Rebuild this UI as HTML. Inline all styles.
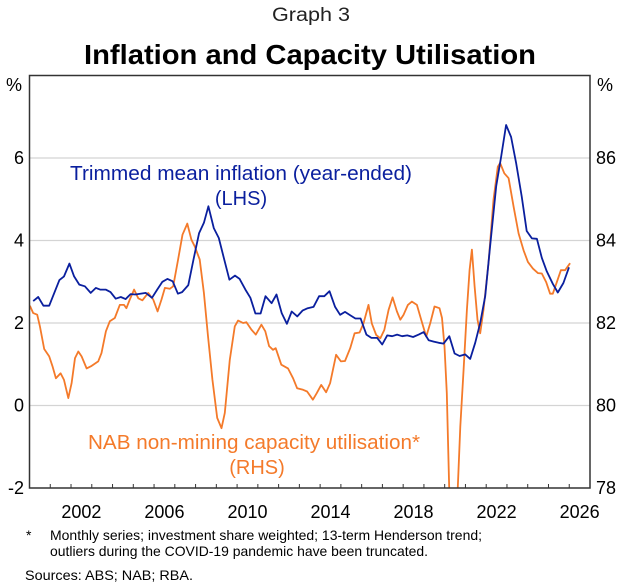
<!DOCTYPE html>
<html><head><meta charset="utf-8"><style>
body{margin:0;background:#fff;}
svg{display:block;font-family:"Liberation Sans",Arial,sans-serif;}
</style></head><body>
<svg id="chart" width="622" height="588" viewBox="0 0 622 588">
<text x="311" y="21" text-anchor="middle" font-size="19" fill="#222" textLength="78" lengthAdjust="spacingAndGlyphs">Graph 3</text>
<text x="310" y="64" text-anchor="middle" font-size="28" font-weight="bold" fill="#000" textLength="452" lengthAdjust="spacingAndGlyphs">Inflation and Capacity Utilisation</text>
<defs><clipPath id="plotclip"><rect x="29.5" y="75.5" width="560.5" height="412.5"/></clipPath></defs>
<g id="grid"></g>
<g id="series" clip-path="url(#plotclip)"></g>
<rect x="29.5" y="75.5" width="560.5" height="412.5" fill="none" stroke="#333" stroke-width="1.5"/>
<g id="axes"></g>
<text x="14" y="91" text-anchor="middle" font-size="18">%</text>
<text x="605" y="91" text-anchor="middle" font-size="18">%</text>
<text x="241" y="180" text-anchor="middle" font-size="20" fill="#0a1f9e" textLength="342" lengthAdjust="spacingAndGlyphs">Trimmed mean inflation (year-ended)</text>
<text x="241" y="205" text-anchor="middle" font-size="20" fill="#0a1f9e">(LHS)</text>
<text x="254" y="449" text-anchor="middle" font-size="20" fill="#f47a2a" textLength="332" lengthAdjust="spacingAndGlyphs">NAB non-mining capacity utilisation*</text>
<text x="257" y="474" text-anchor="middle" font-size="20" fill="#f47a2a">(RHS)</text>
<text x="26" y="540" font-size="14">*</text>
<text x="50" y="540" font-size="14" textLength="432" lengthAdjust="spacingAndGlyphs">Monthly series; investment share weighted; 13-term Henderson trend;</text>
<text x="50" y="556" font-size="14" textLength="378" lengthAdjust="spacingAndGlyphs">outliers during the COVID-19 pandemic have been truncated.</text>
<text x="25" y="580" font-size="14" textLength="168" lengthAdjust="spacingAndGlyphs">Sources:  ABS; NAB; RBA.</text>
</svg>
<script>
const tmDates=[2000.18,2000.42,2000.67,2000.95,2001.44,2001.66,2001.92,2002.15,2002.4,2002.67,2002.95,2003.2,2003.4,2003.67,2003.9,2004.15,2004.4,2004.63,2004.87,2005.1,2005.6,2005.9,2006.15,2006.4,2006.65,2006.9,2007.15,2007.35,2007.65,2007.9,2008.17,2008.4,2008.62,2008.88,2009.12,2009.36,2009.63,2009.9,2010.12,2010.4,2010.64,2010.88,2011.13,2011.37,2011.66,2011.9,2012.15,2012.4,2012.63,2012.9,2013.15,2013.4,2013.68,2013.95,2014.2,2014.45,2014.72,2014.96,2015.2,2015.45,2015.7,2015.95,2016.23,2016.47,2016.75,2016.99,2017.23,2017.47,2017.71,2017.95,2018.2,2018.48,2018.75,2018.99,2019.23,2019.47,2019.71,2019.95,2020.22,2020.48,2020.72,2020.99,2021.23,2021.47,2021.71,2021.95,2022.19,2022.48,2022.72,2022.96,2023.2,2023.44,2023.71,2023.95,2024.2,2024.44,2024.68,2024.92,2025.21,2025.45,2025.72,2025.99];
const tmValues=[2.53,2.63,2.42,2.42,3.04,3.13,3.44,3.13,2.93,2.89,2.73,2.85,2.81,2.81,2.75,2.59,2.63,2.58,2.7,2.69,2.73,2.61,2.81,3.0,3.07,3.01,2.71,2.75,2.92,3.54,4.18,4.43,4.83,4.3,4.06,3.58,3.05,3.15,3.07,2.81,2.61,2.23,2.23,2.65,2.48,2.69,2.24,1.98,2.28,2.16,2.3,2.36,2.39,2.65,2.65,2.77,2.39,2.2,2.27,2.19,2.11,2.11,1.72,1.64,1.64,1.48,1.7,1.68,1.72,1.68,1.7,1.66,1.72,1.78,1.58,1.55,1.52,1.5,1.68,1.26,1.2,1.24,1.13,1.52,2.0,2.65,3.86,5.32,6.04,6.8,6.51,5.88,5.07,4.23,4.05,4.04,3.58,3.25,2.95,2.74,2.97,3.35];
const nabDates=[2000.02,2000.18,2000.37,2000.5,2000.71,2000.95,2001.11,2001.27,2001.5,2001.66,2001.87,2002.03,2002.19,2002.35,2002.51,2002.75,2002.99,2003.31,2003.47,2003.68,2003.87,2004.11,2004.35,2004.55,2004.67,2004.83,2005.04,2005.24,2005.44,2005.72,2005.96,2006.17,2006.36,2006.52,2006.76,2006.92,2007.16,2007.37,2007.6,2007.8,2007.96,2008.2,2008.4,2008.6,2008.81,2009.04,2009.25,2009.41,2009.65,2009.89,2010.05,2010.29,2010.45,2010.69,2010.9,2011.17,2011.36,2011.54,2011.73,2011.86,2012.13,2012.45,2012.7,2012.89,2013.18,2013.37,2013.65,2013.84,2014.05,2014.29,2014.48,2014.77,2015.0,2015.2,2015.45,2015.66,2015.9,2016.09,2016.33,2016.49,2016.7,2016.9,2017.09,2017.3,2017.49,2017.7,2017.86,2018.02,2018.23,2018.42,2018.66,2018.87,2019.11,2019.3,2019.51,2019.75,2019.87,2019.99,2020.1,2020.22,2020.42,2020.62,2020.75,2020.91,2021.07,2021.2,2021.31,2021.44,2021.58,2021.71,2021.87,2022.11,2022.35,2022.56,2022.67,2022.87,2023.08,2023.32,2023.56,2023.8,2024.01,2024.25,2024.49,2024.68,2024.89,2025.08,2025.21,2025.4,2025.6,2025.8,2026.04];
const nabValues=[82.42,82.24,82.2,81.92,81.37,81.19,80.95,80.66,80.78,80.62,80.18,80.54,81.15,81.31,81.19,80.9,80.96,81.07,81.27,81.8,82.04,82.12,82.44,82.44,82.36,82.57,82.81,82.6,82.55,82.73,82.57,82.28,82.57,82.85,82.83,82.89,83.54,84.14,84.41,84.02,83.86,83.54,82.73,81.68,80.63,79.7,79.45,79.82,81.11,81.92,82.06,82.0,82.02,81.84,81.72,81.96,81.8,81.44,81.35,81.39,80.99,80.9,80.66,80.42,80.38,80.34,80.14,80.3,80.5,80.32,80.54,81.23,81.07,81.08,81.39,81.75,81.77,81.99,82.44,81.99,81.71,81.63,81.83,82.32,82.62,82.28,82.08,82.2,82.44,82.52,82.44,82.08,81.67,81.99,82.4,82.36,82.12,81.43,80.3,77.9,75.5,77.9,79.49,80.87,82.32,83.29,83.78,82.89,82.08,81.75,82.32,83.45,84.99,85.79,85.88,85.63,85.51,84.82,84.17,83.76,83.48,83.32,83.21,83.2,82.99,82.71,82.71,82.99,83.28,83.28,83.45];
const leftTicks=[-2,0,2,4,6];
const rightTicks=[78,80,82,84,86];
const yearLabels=[2002,2006,2010,2014,2018,2022,2026];

const NS='http://www.w3.org/2000/svg';
const X0=29.5,X1=590,Y0=75.5,Y1=488;
const xMin=2000,xMax=2027;
function xs(t){return X0+(t-xMin)/(xMax-xMin)*(X1-X0);}
function yl(v){return Y1-(v-(-2))/10*(Y1-Y0);}
function yr(v){return Y1-(v-78)/10*(Y1-Y0);}
function mk(tag,attrs,parent){const e=document.createElementNS(NS,tag);for(const k in attrs)e.setAttribute(k,attrs[k]);parent.appendChild(e);return e;}
const grid=document.getElementById('grid'),axes=document.getElementById('axes'),series=document.getElementById('series');
leftTicks.forEach((v,i)=>{
  if(v>-2){const g=mk('line',{x1:X0,x2:X1,y1:yl(v),y2:yl(v),stroke:'#d4d4d4','stroke-width':1.3},grid);
  
  }
  const t=mk('text',{x:24,y:yl(v)+6,'text-anchor':'end','font-size':18},axes);t.textContent=v;
  
  
});
rightTicks.forEach(v=>{
  const t=mk('text',{x:596,y:yr(v)+6,'font-size':18},axes);t.textContent=v;
  
  
});
for(let y=2001;y<=2026;y++){
  const l=mk('line',{x1:xs(y),x2:xs(y),y1:Y1,y2:Y1-4,stroke:'#333','stroke-width':1},axes);
  
  
}
yearLabels.forEach(y=>{
  const t=mk('text',{x:xs(y+0.5),y:518,'text-anchor':'middle','font-size':18},axes);t.textContent=y;
  
  
});
function path(d,v,f){return d.map((t,i)=>(i?'L':'M')+xs(t).toFixed(1)+','+f(v[i]).toFixed(1)).join('');}
const pn=mk('path',{d:path(nabDates,nabValues,yr),fill:'none',stroke:'#f47a2a','stroke-width':1.8,'stroke-linejoin':'round'},series);


const pt=mk('path',{d:path(tmDates,tmValues,yl),fill:'none',stroke:'#0a1f9e','stroke-width':1.8,'stroke-linejoin':'round'},series);


</script>
</body></html>
